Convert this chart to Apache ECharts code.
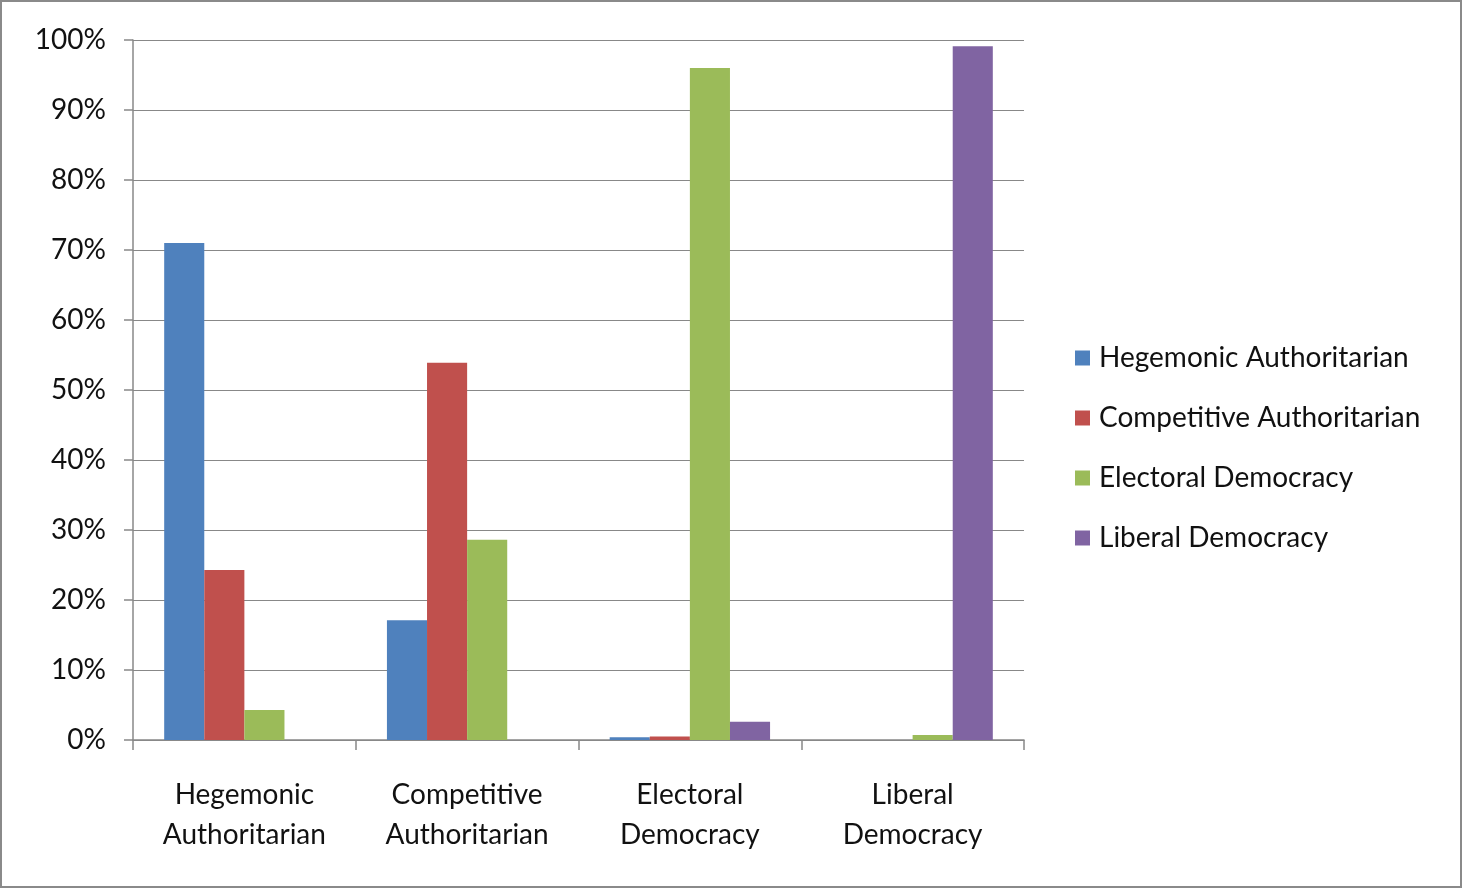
<!DOCTYPE html>
<html>
<head>
<meta charset="utf-8">
<script src="https://cdn.jsdelivr.net/npm/echarts@6/dist/echarts.min.js"></script>
<style>
  html, body { margin: 0; padding: 0; background: #fff; }
  #main { width: 1458px; height: 884px; border: 2px solid #8a8a8a; }
</style>
</head>
<body>
<div id="main"></div>
<script>
var categories = ['Hegemonic\nAuthoritarian', 'Competitive\nAuthoritarian', 'Electoral\nDemocracy', 'Liberal\nDemocracy'];
var seriesNames = ['Hegemonic Authoritarian', 'Competitive Authoritarian', 'Electoral Democracy', 'Liberal Democracy'];
var colors = ['#4f81bd', '#c0504d', '#9bbb59', '#8064a2'];
var hegemonic = [71.0, 17.1, 0.4, 0];
var competitive = [24.3, 53.9, 0.5, 0];
var electoral = [4.3, 28.6, 96.0, 0.7];
var liberal = [0, 0, 2.6, 99.1];
var values = [hegemonic, competitive, electoral, liberal];

var font = 'Lato, Calibri, sans-serif';
var myChart = echarts.init(document.getElementById('main'));

var option = {
    animation: false,
    color: colors,
    grid: { left: 131, right: 436, top: 38, bottom: 146 },
    legend: {
        orient: 'vertical',
        left: 1068,
        top: 337,
        itemWidth: 15,
        itemHeight: 15,
        itemGap: 32,
        icon: 'rect',
        textStyle: { fontFamily: font, fontSize: 28, color: '#111', padding: [0, 0, 0, 4] },
        data: seriesNames
    },
    xAxis: {
        type: 'category',
        data: categories,
        axisLine: { lineStyle: { color: '#888', width: 1.5 } },
        axisTick: { show: true, length: 10, lineStyle: { color: '#888', width: 1.5 } },
        axisLabel: { fontFamily: font, fontSize: 28, color: '#111', lineHeight: 40, margin: 35 }
    },
    yAxis: {
        type: 'value',
        min: 0, max: 100, interval: 10,
        axisLine: { show: true, lineStyle: { color: '#888', width: 1.5 } },
        axisTick: { show: true, inside: false, length: 9, lineStyle: { color: '#888', width: 1.5 } },
        splitLine: { lineStyle: { color: '#888', width: 1.2 } },
        axisLabel: { fontFamily: font, fontSize: 28, color: '#111', margin: 27, formatter: '{value}%' }
    },
    series: seriesNames.map(function (name, i) {
        return {
            name: name,
            type: 'bar',
            data: values[i],
            barGap: '0%',
            barCategoryGap: '28%'
        };
    })
};

myChart.setOption(option);
</script>
</body>
</html>
